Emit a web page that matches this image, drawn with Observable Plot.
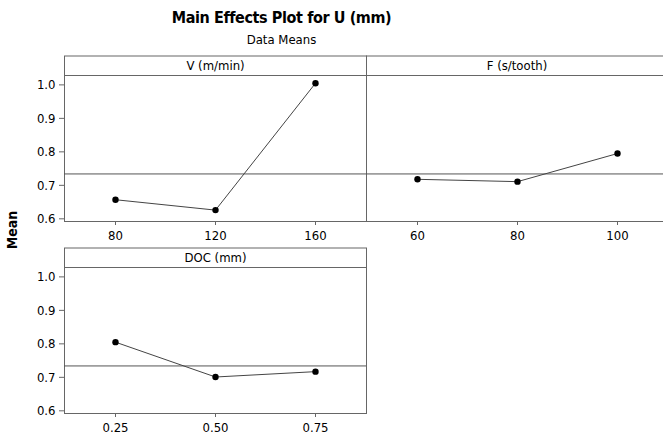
<!DOCTYPE html>
<html>
<head>
<meta charset="utf-8">
<script src="https://cdn.jsdelivr.net/npm/d3@7"></script>
<script src="https://cdn.jsdelivr.net/npm/@observablehq/plot@0.6"></script>
<style>
  html, body { margin: 0; padding: 0; background: #fff; overflow: hidden; }
  #chart { position: relative; width: 663px; height: 441px; overflow: hidden; background: #fff;
    font-family: 'DejaVu Sans Condensed', 'DejaVu Sans', sans-serif; font-stretch: condensed; }
  .abs { position: absolute; }
  #title { left: 0; width: 563px; top: 9px; text-align: center; font-size: 16px; letter-spacing: -0.4px; font-weight: bold; line-height: 17px; }
  #subtitle { left: 0; width: 563px; top: 33px; text-align: center; font-size: 13px; line-height: 13px; }
  #ylabel { left: -8px; top: 223px; width: 40px; text-align: center; font-size: 14px; font-weight: bold; line-height: 14px; transform: rotate(-90deg); }
</style>
</head>
<body>
<div id="chart">
  <div id="title" class="abs">Main Effects Plot for U (mm)</div>
  <div id="subtitle" class="abs">Data Means</div>
  <div id="ylabel" class="abs">Mean</div>
</div>
<script>
// ---- data ----
const vTitle = "V (m/min)";
const vLevels = ["80", "120", "160"];
const vMeans = [0.657, 0.626, 1.005];

const fTitle = "F (s/tooth)";
const fLevels = ["60", "80", "100"];
const fMeans = [0.718, 0.711, 0.795];

const docTitle = "DOC (mm)";
const docLevels = ["0.25", "0.50", "0.75"];
const docMeans = [0.805, 0.701, 0.717];

const grandMean = 0.734;
const yTicks = [0.6, 0.7, 0.8, 0.9, 1.0];
const yDomain = [0.592, 1.028];

const FONT = "'DejaVu Sans Condensed', 'DejaVu Sans', sans-serif";

function panel(title, levels, means, showY) {
  const data = levels.map((l, i) => ({level: l, mean: means[i]}));
  const marks = [
    Plot.frame({stroke: "#666", insetTop: -19.5}),
    Plot.frame({stroke: "#666"}),
    Plot.ruleY([grandMean], {stroke: "#555", strokeWidth: 1}),
    Plot.line(data, {x: "level", y: "mean", stroke: "#444", strokeWidth: 1}),
    Plot.dot(data, {x: "level", y: "mean", r: 3.2, fill: "black", stroke: "none"}),
    Plot.text([title], {frameAnchor: "top", lineAnchor: "middle", dy: -10, text: d => d, fontSize: 13, fill: "black"}),
    Plot.axisX({tickSize: 4, tickPadding: 5, label: null, stroke: "#666", fill: "black", fontSize: 13})
  ];
  if (showY) {
    marks.push(Plot.axisY({ticks: yTicks, tickFormat: ".1f", tickSize: 5, tickPadding: 4, label: null,
      stroke: "#666", fill: "black", fontSize: 13}));
  }
  return Plot.plot({
    width: showY ? 367 : 303,
    height: 191,
    marginTop: 20,
    marginBottom: 25,
    marginLeft: showY ? 64 : 1,
    marginRight: 1,
    x: {type: "point", domain: levels, padding: 0.5, axis: null},
    y: {domain: yDomain, axis: null},
    style: {fontFamily: FONT, fontSize: "13px", color: "black", background: "transparent", overflow: "visible"},
    marks
  });
}

const chart = document.getElementById("chart");
function place(svg, left, top) {
  svg.style.position = "absolute";
  svg.style.left = left + "px";
  svg.style.top = top + "px";
  chart.appendChild(svg);
}
place(panel(vTitle, vLevels, vMeans, true), 0, 55);
place(panel(fTitle, fLevels, fMeans, false), 365, 55);
place(panel(docTitle, docLevels, docMeans, true), 0, 247);
</script>
</body>
</html>
